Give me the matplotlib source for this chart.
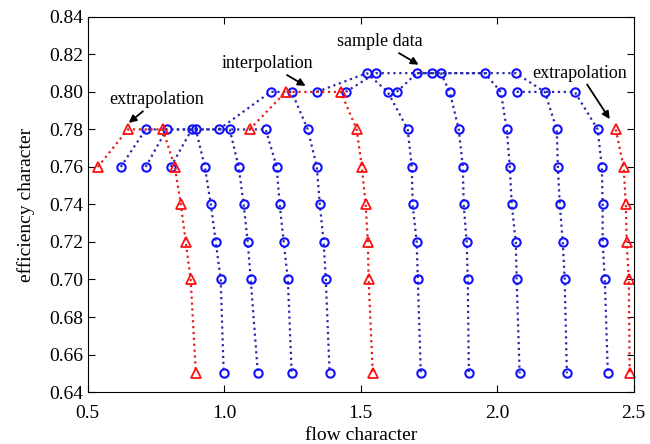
import matplotlib
matplotlib.use("Agg")
import matplotlib.pyplot as plt

plt.rcParams['font.family'] = ['Liberation Serif', 'DejaVu Serif']

# sample speed lines (blue)
flow_b1 = [0.621, 0.712, 0.896, 0.929, 0.951, 0.969, 0.987, 0.998]
eff_b1 = [0.76, 0.78, 0.78, 0.76, 0.74, 0.72, 0.70, 0.65]
flow_b2 = [0.712, 0.789, 1.020, 1.053, 1.071, 1.086, 1.097, 1.123]
eff_b2 = [0.76, 0.78, 0.78, 0.76, 0.74, 0.72, 0.70, 0.65]
flow_b3 = [0.804, 0.881, 1.152, 1.192, 1.203, 1.218, 1.233, 1.247]
eff_b3 = [0.76, 0.78, 0.78, 0.76, 0.74, 0.72, 0.70, 0.65]
flow_b4 = [0.980, 1.170, 1.247, 1.306, 1.339, 1.350, 1.364, 1.372, 1.386]
eff_b4 = [0.78, 0.80, 0.80, 0.78, 0.76, 0.74, 0.72, 0.70, 0.65]
flow_b5 = [1.339, 1.522, 1.599, 1.672, 1.687, 1.690, 1.705, 1.709, 1.720]
eff_b5 = [0.80, 0.81, 0.80, 0.78, 0.76, 0.74, 0.72, 0.70, 0.65]
flow_b6 = [1.445, 1.555, 1.793, 1.826, 1.859, 1.874, 1.877, 1.888, 1.892, 1.896]
eff_b6 = [0.80, 0.81, 0.81, 0.80, 0.78, 0.76, 0.74, 0.72, 0.70, 0.65]
flow_b7 = [1.632, 1.705, 1.954, 2.013, 2.035, 2.046, 2.053, 2.068, 2.071, 2.082]
eff_b7 = [0.80, 0.81, 0.81, 0.80, 0.78, 0.76, 0.74, 0.72, 0.70, 0.65]
flow_b8 = [1.760, 2.068, 2.174, 2.218, 2.222, 2.229, 2.240, 2.247, 2.255]
eff_b8 = [0.81, 0.81, 0.80, 0.78, 0.76, 0.74, 0.72, 0.70, 0.65]
flow_b9 = [2.071, 2.284, 2.368, 2.383, 2.386, 2.386, 2.394, 2.405]
eff_b9 = [0.80, 0.80, 0.78, 0.76, 0.74, 0.72, 0.70, 0.65]

# generated lines (red)
flow_r1 = [0.537, 0.647, 0.775, 0.819, 0.841, 0.859, 0.877, 0.896]
eff_r1 = [0.76, 0.78, 0.78, 0.76, 0.74, 0.72, 0.70, 0.65]
flow_r2 = [1.093, 1.225, 1.427, 1.485, 1.504, 1.518, 1.526, 1.529, 1.544]
eff_r2 = [0.78, 0.80, 0.80, 0.78, 0.76, 0.74, 0.72, 0.70, 0.65]
flow_r3 = [2.434, 2.463, 2.471, 2.474, 2.482, 2.485]
eff_r3 = [0.78, 0.76, 0.74, 0.72, 0.70, 0.65]

blue_lines = [(flow_b1, eff_b1), (flow_b2, eff_b2), (flow_b3, eff_b3),
              (flow_b4, eff_b4), (flow_b5, eff_b5), (flow_b6, eff_b6),
              (flow_b7, eff_b7), (flow_b8, eff_b8), (flow_b9, eff_b9)]
red_lines = [(flow_r1, eff_r1), (flow_r2, eff_r2), (flow_r3, eff_r3)]

fig = plt.figure(figsize=(6.5, 4.44), dpi=100)
ax = fig.add_axes([0.135, 0.117, 0.84, 0.845])

for fx, ey in blue_lines:
    ax.plot(fx, ey, ls=':', color='#2a2aa8', lw=1.6,
            marker='o', ms=6, mfc='none', mec='#1010ff', mew=1.5, clip_on=False)
for fx, ey in red_lines:
    ax.plot(fx, ey, ls=':', color='#e02020', lw=1.6,
            marker='^', ms=6.5, mfc='none', mec='#ff1010', mew=1.3, clip_on=False)

arrow = dict(arrowstyle='-|>', color='k', lw=1.3, mutation_scale=11, shrinkA=0, shrinkB=0)
ax.annotate('extrapolation', xy=(0.650, 0.7835), xytext=(0.753, 0.7957),
            ha='center', va='center', fontsize=13, arrowprops=arrow)
ax.annotate('interpolation', xy=(1.298, 0.8032), xytext=(1.159, 0.815),
            ha='center', va='center', fontsize=13, arrowprops=arrow)
ax.annotate('sample data', xy=(1.712, 0.8145), xytext=(1.570, 0.8267),
            ha='center', va='center', fontsize=13, arrowprops=arrow)
ax.annotate('extrapolation', xy=(2.412, 0.7855), xytext=(2.302, 0.810),
            ha='center', va='center', fontsize=13, arrowprops=arrow)

ax.set_xlim(0.5, 2.5)
ax.set_ylim(0.64, 0.84)
ax.set_xticks([0.5, 1.0, 1.5, 2.0, 2.5])
ax.set_yticks([0.64 + 0.02 * k for k in range(11)])
ax.xaxis.set_major_formatter(plt.FormatStrFormatter('%.1f'))
ax.yaxis.set_major_formatter(plt.FormatStrFormatter('%.2f'))
ax.tick_params(direction='in', top=True, right=True, labelsize=14, length=5)
ax.tick_params(axis='x', pad=9)
ax.set_xlabel('flow character', fontsize=14, labelpad=4)
ax.set_ylabel('efficiency character', fontsize=14, labelpad=10)

fig.savefig('out.png', dpi=100)
